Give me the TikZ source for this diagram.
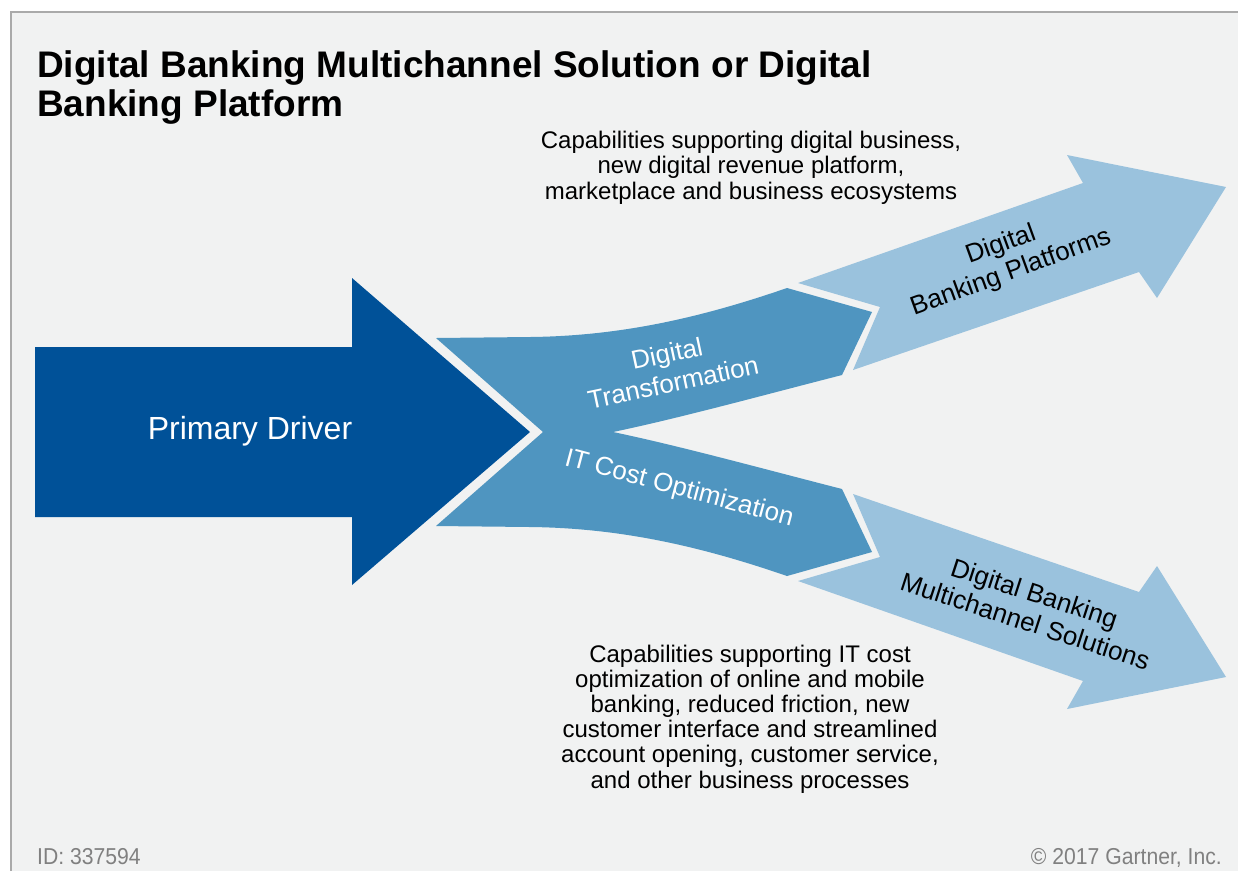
\documentclass[tikz,border=0pt]{standalone}
\usepackage{fontspec}
\setmainfont{Liberation Sans}
\definecolor{panel}{RGB}{241,242,242}
\definecolor{framegray}{RGB}{170,170,170}
\definecolor{driverblue}{RGB}{0,81,152}
\definecolor{midblue}{RGB}{79,149,192}
\definecolor{lightblue}{RGB}{154,194,221}
\definecolor{footgray}{RGB}{128,128,128}
\tikzset{
  bandtext/.style={inner sep=0pt, align=center, font=\fontsize{26}{30}\selectfont},
  notetext/.style={inner sep=0pt, align=center, anchor=north, font=\fontsize{24}{25.5}\selectfont, text=black},
  foottext/.style={inner sep=0pt, text=footgray, font=\fontsize{23}{25}\selectfont, xscale=0.92}
}
\begin{document}
\begin{tikzpicture}[x=1pt,y=-1pt]
\useasboundingbox (0,0) rectangle (1238,871);
% page and panel
\fill[white] (0,0) rectangle (1238,871);
\fill[panel] (11,12) rectangle (1238,871);
\draw[framegray, line width=1.1pt] (11,871) -- (11,12) -- (1238,12);

% primary driver arrow
\fill[driverblue] (35,347) -- (352,347) -- (352,278) -- (530,432) -- (352,585)
  -- (352,517) -- (35,517) -- cycle;

% forked middle band
\fill[midblue] (436,338) -- (530,337) .. controls (620,336) and (700,318) .. (787,288)
  -- (872,312) -- (842,375) .. controls (760,396) and (680,418) .. (613,432)
  .. controls (680,446) and (760,468) .. (842,489) -- (872,552) -- (787,576)
  .. controls (700,546) and (620,528) .. (530,527) -- (436,526) -- (543,432) -- cycle;

% outcome arrows
\fill[lightblue] (798,283) -- (1083,183) -- (1067,155) -- (1226,187) -- (1157,298)
  -- (1139,272) -- (853,370) -- (880,307) -- cycle;
\fill[lightblue] (798,581) -- (1083,681) -- (1067,709) -- (1226,677) -- (1157,566)
  -- (1139,592) -- (853,494) -- (880,557) -- cycle;

% title
\node[inner sep=0pt, anchor=north west, align=left,
      font=\fontsize{37}{39}\selectfont\bfseries] (title) at (37,50)
  {Digital Banking Multichannel Solution or Digital\\Banking Platform};

% labels on the arrows
\node[text=white, inner sep=0pt, font=\fontsize{32}{36}\selectfont] (driver) at (250,431) {Primary Driver};
\node[bandtext, text=white, rotate=12] (transform) at (670,368) {Digital\\Transformation};
\node[bandtext, text=white, rotate=-15] (costopt) at (679,489) {IT Cost Optimization};
\node[bandtext, text=black, rotate=20, font=\fontsize{26}{29.5}\selectfont] (platforms) at (1006,259)
  {Digital\\Banking Platforms};
\node[bandtext, text=black, rotate=-18, font=\fontsize{26}{29.5}\selectfont] (multichannel) at (1030,607)
  {Digital Banking\\Multichannel Solutions};

% explanatory notes
\node[notetext] (notetop) at (751,130.5)
  {Capabilities supporting digital business,\\new digital revenue platform,\\marketplace and business ecosystems};
\node[notetext, font=\fontsize{24}{25.2}\selectfont] (notebottom) at (750,644.5)
  {Capabilities supporting IT cost\\optimization of online and mobile\\banking, reduced friction, new\\customer interface and streamlined\\account opening, customer service,\\and other business processes};

% footer
\node[foottext, anchor=base west] (docid) at (37,864) {ID: 337594};
\node[foottext, anchor=base east] (copyright) at (1222,864) {© 2017 Gartner, Inc.};
\end{tikzpicture}
\end{document}
